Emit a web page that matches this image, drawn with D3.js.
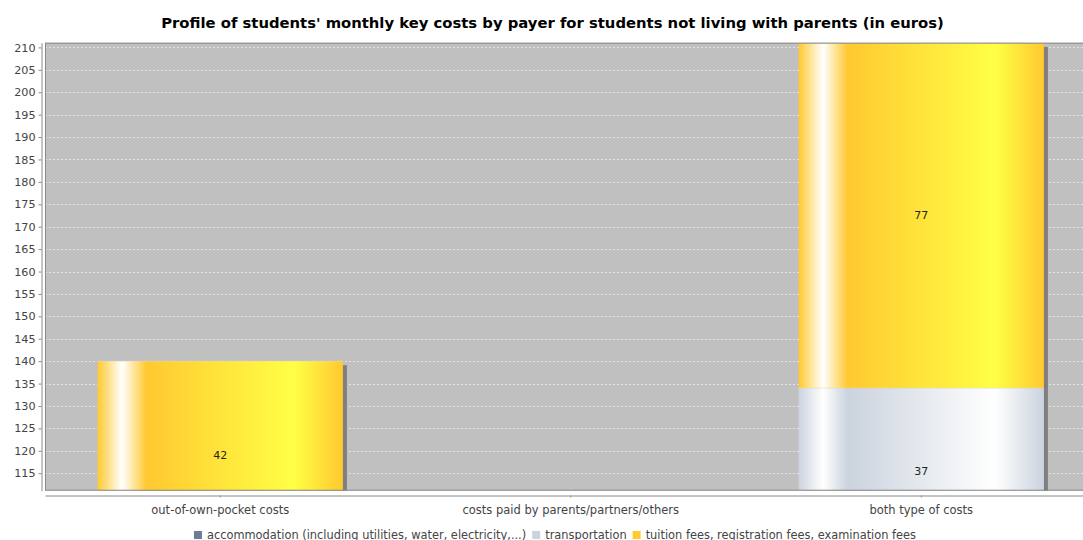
<!DOCTYPE html>
<html>
<head>
<meta charset="utf-8">
<script src="https://cdn.jsdelivr.net/npm/d3@7"></script>
<style>
  html, body { margin: 0; padding: 0; background: #ffffff; }
  svg { display: block; font-family: "DejaVu Sans", sans-serif; }
</style>
</head>
<body>
<svg id="chart" width="1083" height="540"></svg>
<script>
// ---- data ----
const title = "Profile of students' monthly key costs by payer for students not living with parents (in euros)";
const categories = ["out-of-own-pocket costs", "costs paid by parents/partners/others", "both type of costs"];
const seriesNames = ["accommodation (including utilities, water, electricity,...)", "transportation", "tuition fees, registration fees, examination fees"];
const accommodation = [98, 0, 97];
const transportation = [0, 0, 37];
const tuition = [42, 0, 77];
const yTicks = [115, 120, 125, 130, 135, 140, 145, 150, 155, 160, 165, 170, 175, 180, 185, 190, 195, 200, 205, 210];
const yDomain = [111.1, 211.05];
const seriesColors = ["#6b7b98", "#cbd3de", "#ffc930"];

// ---- layout ----
const svg = d3.select("#chart");
const plot = { left: 45, right: 1096.5, top: 42.7, bottom: 490.7 };

const y = d3.scaleLinear().domain(yDomain).range([plot.bottom, plot.top]);
const x = d3.scaleBand().domain(categories).range([plot.left, plot.right])
  .paddingInner(0.3).paddingOuter(0.15);

// title
svg.append("text")
  .attr("x", 552.5).attr("y", 28)
  .attr("text-anchor", "middle")
  .attr("font-size", 14.8).attr("font-weight", "bold").attr("fill", "#000")
  .text(title);

// clip
const defs = svg.append("defs");
defs.append("clipPath").attr("id", "plotClip").append("rect")
  .attr("x", plot.left).attr("y", plot.top)
  .attr("width", plot.right - plot.left).attr("height", plot.bottom - plot.top);

// gradients (GradientBarPainter style)
function brighter(hex) {
  const c = d3.rgb(hex);
  const f = v => Math.min(255, Math.round(v / 0.7));
  return d3.rgb(f(c.r), f(c.g), f(c.b)).formatHex();
}
seriesColors.forEach((col, i) => {
  const g = defs.append("linearGradient").attr("id", "grad" + i)
    .attr("x1", "0").attr("x2", "1").attr("y1", "0").attr("y2", "0");
  const c1 = brighter(col);
  [[0, col], [0.1, "#ffffff"], [0.2, col], [0.8, c1], [1, col]].forEach(([o, c]) => {
    g.append("stop").attr("offset", o).attr("stop-color", c);
  });
});

// plot background
svg.append("rect")
  .attr("x", plot.left).attr("y", plot.top)
  .attr("width", plot.right - plot.left).attr("height", plot.bottom - plot.top)
  .attr("fill", "#c0c0c0");

// gridlines
svg.append("g").selectAll("line").data(yTicks).join("line")
  .attr("x1", plot.left).attr("x2", plot.right)
  .attr("y1", d => Math.round(y(d)) + 0.5).attr("y2", d => Math.round(y(d)) + 0.5)
  .attr("stroke", "#e4e4e4").attr("stroke-width", 1).attr("stroke-dasharray", "2,2");

// stacked data
const rows = categories.map((c, i) => ({ cat: c, v: [accommodation[i], transportation[i], tuition[i]] }));
const segments = [];
rows.forEach(r => {
  let base = 0;
  r.v.forEach((val, s) => {
    if (val > 0) segments.push({ cat: r.cat, s, y0: base, y1: base + val, val });
    base += val;
  });
});

const bars = svg.append("g").attr("clip-path", "url(#plotClip)");
// shadows
bars.selectAll("rect.shadow").data(segments).join("rect")
  .attr("class", "shadow")
  .attr("x", d => x(d.cat) + 4)
  .attr("y", d => y(d.y1) + 4)
  .attr("width", x.bandwidth())
  .attr("height", d => y(d.y0) - y(d.y1))
  .attr("fill", "#7f7f7f");
// bars
bars.selectAll("rect.bar").data(segments).join("rect")
  .attr("class", "bar")
  .attr("x", d => x(d.cat))
  .attr("y", d => y(d.y1))
  .attr("width", x.bandwidth())
  .attr("height", d => y(d.y0) - y(d.y1))
  .attr("fill", d => "url(#grad" + d.s + ")");
// thin separators at segment tops
bars.selectAll("line.sep").data(segments).join("line")
  .attr("class", "sep")
  .attr("x1", d => x(d.cat)).attr("x2", d => x(d.cat) + x.bandwidth())
  .attr("y1", d => y(d.y1)).attr("y2", d => y(d.y1))
  .attr("stroke", "#e8e0c0").attr("stroke-width", 0.6).attr("opacity", 0.7);

// value labels (at segment centre, if in range)
const labelled = segments.filter(d => {
  const m = (d.y0 + d.y1) / 2;
  return m >= yDomain[0] && m <= yDomain[1];
});
svg.append("g").selectAll("text").data(labelled).join("text")
  .attr("x", d => x(d.cat) + x.bandwidth() / 2)
  .attr("y", d => y((d.y0 + d.y1) / 2))
  .attr("dy", "0.35em")
  .attr("text-anchor", "middle")
  .attr("font-size", 11).attr("fill", "#222")
  .text(d => d.val);

// plot outline
svg.append("rect")
  .attr("x", plot.left + 0.5).attr("y", plot.top + 0.5)
  .attr("width", plot.right - plot.left).attr("height", plot.bottom - plot.top - 1)
  .attr("fill", "none").attr("stroke", "#8a8a8a").attr("stroke-width", 1);

// y axis
const yAxis = svg.append("g")
  .attr("transform", "translate(41.5,0)")
  .call(d3.axisLeft(y).tickValues(yTicks).tickSize(3).tickPadding(3).tickSizeOuter(0));
yAxis.select(".domain").attr("stroke", "#8a8a8a");
yAxis.selectAll(".tick line").attr("stroke", "#8a8a8a");
yAxis.selectAll(".tick text").attr("font-size", 11.2).attr("fill", "#444").attr("font-family", "DejaVu Sans, sans-serif");

// x axis
const xAxis = svg.append("g")
  .attr("transform", "translate(0,495.5)")
  .call(d3.axisBottom(x).tickSize(2).tickPadding(8).tickSizeOuter(0));
xAxis.select(".domain").attr("stroke", "#8a8a8a");
xAxis.selectAll(".tick line").attr("stroke", "#8a8a8a");
xAxis.selectAll(".tick text").attr("font-size", 11.5).attr("fill", "#444").attr("font-family", "DejaVu Sans, sans-serif");

// legend
const legend = svg.append("g");
const items = [];
seriesNames.forEach((name, i) => {
  const g = legend.append("g");
  g.append("rect").attr("x", 0).attr("y", -4).attr("width", 8).attr("height", 8).attr("fill", seriesColors[i]);
  const t = g.append("text").attr("x", 13).attr("y", 0).attr("dy", "0.35em")
    .attr("font-size", 11.4).attr("fill", "#444").text(name);
  const w = 13 + t.node().getComputedTextLength();
  items.push({ g, w });
});
const gap = 6;
const totalW = d3.sum(items, d => d.w) + gap * (items.length - 1);
let cx = 555 - totalW / 2;
items.forEach(it => { it.g.attr("transform", `translate(${cx},535)`); cx += it.w + gap; });
</script>
</body>
</html>
